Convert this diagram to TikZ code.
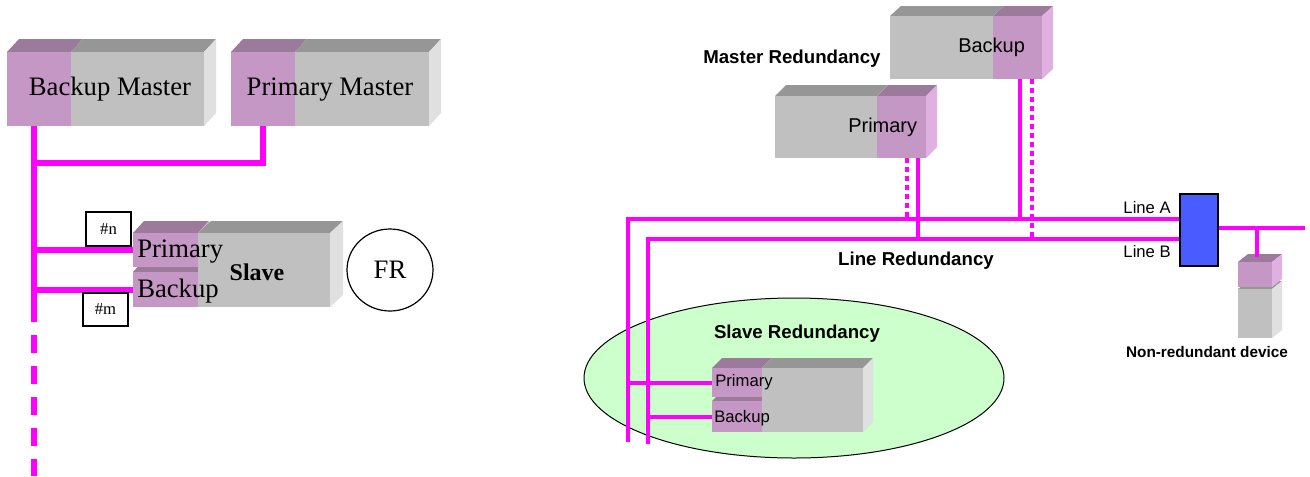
\documentclass[tikz,border=0pt]{standalone}
\usepackage{fontspec}
\setmainfont{Liberation Serif}
\newfontfamily\arialfont{Liberation Sans}
\usetikzlibrary{fit,shapes.geometric}

\definecolor{pinkfront}{RGB}{196,151,196}
\definecolor{pinktop}{RGB}{156,122,156}
\definecolor{pinkside}{RGB}{224,176,224}
\definecolor{greyfront}{RGB}{192,192,192}
\definecolor{greytop}{RGB}{150,150,150}
\definecolor{greyside}{RGB}{224,224,224}
\definecolor{busmagenta}{RGB}{255,0,255}
\definecolor{switchblue}{RGB}{72,92,255}
\definecolor{zonegreen}{RGB}{204,255,204}

% 3D block: name, x1, y1, x2, y2 (front face), depth x, depth y, palette
\newcommand\devblock[8]{%
  \fill[#8top] (#2,#3) -- ++(#6,-#7) -- ++(#4-#2,0) -- (#4,#3) -- cycle;
  \fill[#8side] (#4,#3) -- ++(#6,-#7) -- ++(0,#5-#3) -- (#4,#5) -- cycle;
  \fill[#8front] (#2,#3) rectangle (#4,#5);
  \node[inner sep=0pt, fit={(#2,#3) (#4,#5)}] (#1) {};
}

\begin{document}
\begin{tikzpicture}[x=0.75pt, y=-0.75pt,
  every node/.style={inner sep=0pt},
  bus/.style={busmagenta, line width=4.5pt},
  rbus/.style={busmagenta, line width=3pt},
  dotbus/.style={busmagenta, line width=3pt, dash pattern=on 3.75pt off 3pt},
  serif/.style={font=\fontsize{20}{24}\selectfont},
  rlabel/.style={font=\arialfont\fontsize{#1}{#1}\selectfont},
  rbold/.style={font=\arialfont\bfseries\fontsize{#1}{#1}\selectfont},
  tagbox/.style={draw, line width=1pt, minimum width=33.75pt, font=\fontsize{12.5}{14}\selectfont}]

\useasboundingbox (0,0) rectangle (1310,476);
\fill[white] (0,0) rectangle (1310,476);

% ---------------- fieldbus with backup master ----------------
\devblock{bmp}{7}{52}{71}{126}{12}{13}{pink}
\devblock{bmg}{71}{52}{204}{126}{12}{13}{grey}
\devblock{pmp}{231}{52}{295}{126}{12}{13}{pink}
\devblock{pmg}{295}{52}{429}{126}{12}{13}{grey}
\node[serif, anchor=base] (bmtext) at (110,95) {Backup Master};
\node[serif, anchor=base] (pmtext) at (330,95) {Primary Master};

\devblock{sb}{133}{272}{198}{307}{11}{12}{pink}
\devblock{sp}{133}{233}{198}{267}{11}{12}{pink}
\devblock{sg}{198}{233}{330}{307}{13}{12}{grey}
\node[serif, anchor=base west] (sptext) at (137,257) {Primary};
\node[serif, anchor=base west] (sbtext) at (137,297) {Backup};
\node[font=\bfseries\fontsize{18}{20}\selectfont, anchor=base] (sgtext) at (257,280) {Slave};

\coordinate (busL) at (34,163);
\coordinate (busLdash) at (34,322);
\coordinate (busLend) at (34,476);
\draw[bus] (bmp.south -| busL) -- (busL) -| (pmp.south);
\draw[bus] (busL) -- (busLdash);
\draw[bus, dash pattern=on 13.5pt off 9.75pt, dash phase=13.5pt] (busLdash) -- (busLend);
\draw[bus] (sp.west -| busL) -- (sp.west);
\draw[bus] (sb.west -| busL) -- (sb.west);

\node[tagbox, minimum height=25.5pt] (tagn) at (108.5,229) {\#n};
\node[tagbox, minimum height=24.75pt] (tagm) at (105.5,309.5) {\#m};
\node[ellipse, draw, line width=0.9pt, minimum width=64.5pt, minimum height=61.5pt, serif] (fr) at (390,270) {FR};

% ---------------- redundancy overview ----------------
\node[ellipse, draw, fill=zonegreen, line width=0.75pt, minimum width=315pt, minimum height=120pt] (zone) at (794,378) {};

\devblock{mbg}{890}{16}{993}{79}{11}{10}{grey}
\devblock{mbp}{993}{16}{1042}{79}{11}{10}{pink}
\devblock{mpg}{775}{96}{877}{158}{11}{11}{grey}
\devblock{mpp}{877}{96}{926}{158}{11}{11}{pink}

\devblock{rsb}{712}{401}{762}{432}{10}{10}{pink}
\devblock{rsp}{712}{368}{762}{397}{10}{10}{pink}
\devblock{rsg}{762}{368}{863}{432}{10}{10}{grey}

\devblock{nrg}{1238}{289}{1272}{338}{10}{8}{grey}
\devblock{nrp}{1238}{262}{1272}{287}{10}{8}{pink}

\node[draw, fill=switchblue, line width=1pt, minimum width=28.5pt, minimum height=54pt] (sw) at (1199,230) {};

\coordinate (aBot) at (628,442);
\coordinate (bBot) at (648,444);
\coordinate (aLev) at (0,219);
\coordinate (bLev) at (0,239);
\coordinate (rEnd) at (1305,228);

\draw[rbus] (aBot) |- (sw.west |- aLev);
\draw[rbus] (bBot) |- (sw.west |- bLev);
\draw[rbus] (rsp.west -| aBot) -- (rsp.west);
\draw[rbus] (rsb.west -| bBot) -- (rsb.west);

\draw[rbus] ([xshift=1.9pt]mbp.south) coordinate (d1) -- (d1 |- aLev);
\draw[dotbus] ([xshift=10.9pt]mbp.south) coordinate (d2) -- (d2 |- bLev);
\draw[dotbus] ([xshift=4.1pt]mpp.south) coordinate (d3) -- (d3 |- aLev);
\draw[rbus] ([xshift=12.4pt]mpp.south) coordinate (d4) -- (d4 |- bLev);

\draw[rbus] (sw.east |- rEnd) -- (rEnd);
\draw[rbus] ([xshift=1.5pt]nrp.north |- rEnd) -- ([xshift=1.5pt, yshift=3.75pt]nrp.north);

\node[rbold=14, anchor=base west] (mrtext) at (703,63) {Master Redundancy};
\node[rlabel=15, anchor=base west] (mbtext) at (958,52) {Backup};
\node[rlabel=15, anchor=base west] (mptext) at (848,132) {Primary};
\node[rlabel=12.5, anchor=base east] (latext) at (1171,213) {Line A};
\node[rlabel=12.5, anchor=base east] (lbtext) at (1171,257) {Line B};
\node[rbold=14, anchor=base] (lrtext) at (916,265) {Line Redundancy};
\node[rbold=14, anchor=base] (srtext) at (797,338) {Slave Redundancy};
\node[rlabel=12.5, anchor=base west] (rsptext) at (715,386) {Primary};
\node[rlabel=12.5, anchor=base west] (rsbtext) at (714,422) {Backup};
\node[rbold=11.5, anchor=base] (nrtext) at (1207,357) {Non-redundant device};
\end{tikzpicture}
\end{document}
